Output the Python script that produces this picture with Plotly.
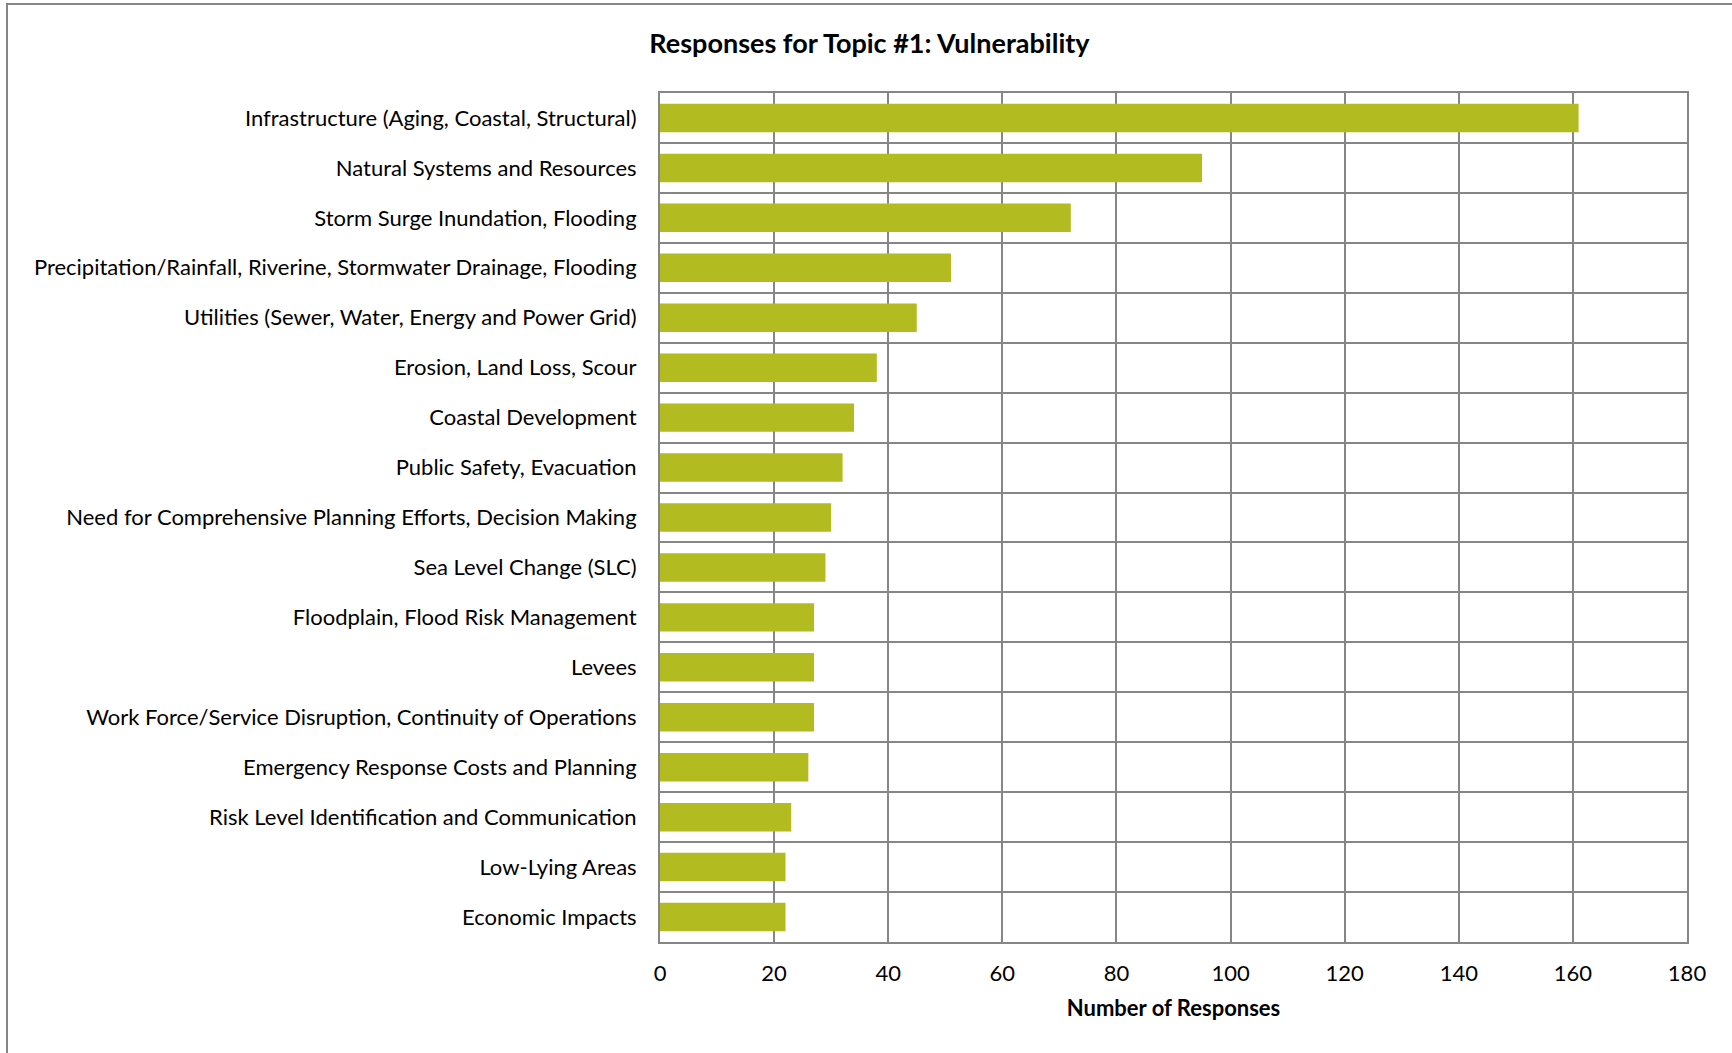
import plotly.graph_objects as go

categories = [
    "Infrastructure (Aging, Coastal, Structural)",
    "Natural Systems and Resources",
    "Storm Surge Inundation, Flooding",
    "Precipitation/Rainfall, Riverine, Stormwater Drainage, Flooding",
    "Utilities (Sewer, Water, Energy and Power Grid)",
    "Erosion, Land Loss, Scour",
    "Coastal Development",
    "Public Safety, Evacuation",
    "Need for Comprehensive Planning Efforts, Decision Making",
    "Sea Level Change (SLC)",
    "Floodplain, Flood Risk Management",
    "Levees",
    "Work Force/Service Disruption, Continuity of Operations",
    "Emergency Response Costs and Planning",
    "Risk Level Identification and Communication",
    "Low-Lying Areas",
    "Economic Impacts",
]
responses = [161, 95, 72, 51, 45, 38, 34, 32, 30, 29, 27, 27, 27, 26, 23, 22, 22]
x_ticks = [0, 20, 40, 60, 80, 100, 120, 140, 160, 180]

FONT = "Lato, 'Open Sans', sans-serif"
GRID = "#868686"

fig = go.Figure(go.Bar(
    x=responses,
    y=categories,
    orientation="h",
    marker=dict(color="#b2bb1f", line=dict(width=0)),
    hoverinfo="x+y",
))

fig.update_layout(
    width=1732, height=1053,
    margin=dict(l=660, r=45, t=93, b=111, autoexpand=False),
    paper_bgcolor="white", plot_bgcolor="white",
    bargap=0.43,
    font=dict(family=FONT, size=22, color="black"),
    title=dict(text="<b>Responses for Topic #1: Vulnerability</b>",
               x=0.502, xanchor="center", y=1 - 44 / 1053, yanchor="middle",
               font=dict(family=FONT, size=27, color="black")),
    showlegend=False,
    xaxis=dict(
        range=[0, 180], tickvals=x_ticks, ticktext=[str(v) for v in x_ticks],
        showgrid=True, gridcolor=GRID, gridwidth=2,
        showline=True, linecolor=GRID, linewidth=2, mirror=True,
        zeroline=False, ticks="", ticklabelstandoff=11,
        title=dict(text="<b>Number of Responses</b>", standoff=15,
                   font=dict(family=FONT, size=22, color="black")),
    ),
    yaxis=dict(
        type="category", categoryorder="array", categoryarray=categories,
        autorange="reversed",
        tickson="boundaries",
        showgrid=True, gridcolor=GRID, gridwidth=2,
        showline=True, linecolor=GRID, linewidth=2, mirror=True,
        ticks="", ticklabelstandoff=17,
    ),
)

# outer chart-area border
fig.add_shape(type="rect", xref="paper", yref="paper",
              x0=(7 - 660) / 1027, x1=1.2, y0=-0.3, y1=1 + (93 - 4) / 849,
              line=dict(color=GRID, width=2), fillcolor="rgba(0,0,0,0)", layer="below")

fig.write_html("out.html", config={"displayModeBar": False},
               post_script="document.body.style.margin='0';")
